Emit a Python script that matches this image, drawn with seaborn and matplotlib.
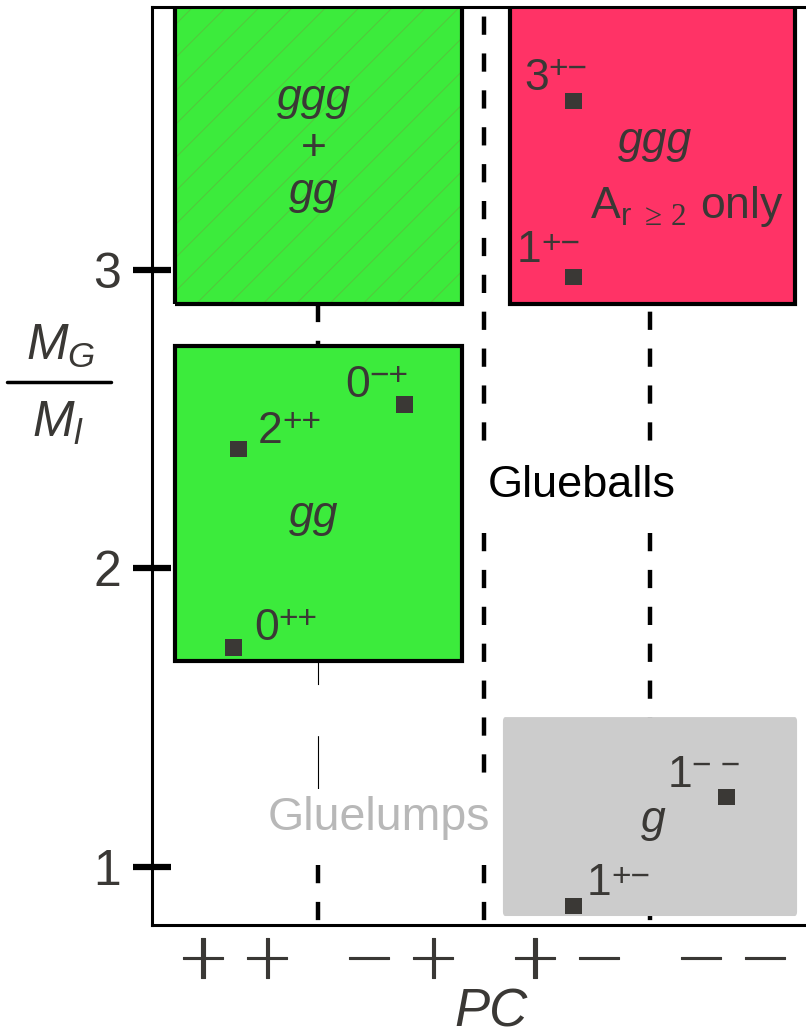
import matplotlib
matplotlib.use("Agg")
import matplotlib.pyplot as plt
import matplotlib.patheffects as pe
from matplotlib.patches import Rectangle, FancyBboxPatch
from matplotlib.lines import Line2D
import pandas as pd
import seaborn as sns


# PC sectors along the x axis
pc_labels = ["+\u2006+", "\u2212\u2006+", "+\u2006\u2212", "\u2212\u2006\u2212"]
sector_edges = [0.5, 1.5, 2.5]

# states: name, PC sector position, M_G / M_l
state_names = ["0++", "2++", "0-+", "3+-", "1+-", "1--", "1+- lump"]
state_x = [-0.01, 0.02, 1.02, 2.04, 2.04, 2.96, 2.04]
state_mass = [1.735, 2.399, 2.548, 3.564, 2.975, 1.234, 0.869]

# shaded regions: x range (sectors), y range (mass ratio)
green_top = [-0.361, 1.367, 2.885, 4.2]
green_low = [-0.361, 1.367, 1.690, 2.744]
red_box = [1.657, 3.373, 2.885, 4.2]
grey_box = [1.614, 3.386, 0.836, 1.502]

df = pd.DataFrame({"name": state_names, "x": state_x, "mass": state_mass})

dark = "#3a3835"

sns.set_style("white")
plt.rcParams["font.family"] = ["Liberation Sans", "DejaVu Sans"]
plt.rcParams["mathtext.fontset"] = "custom"
plt.rcParams["mathtext.rm"] = "Liberation Sans"
plt.rcParams["mathtext.it"] = "Liberation Sans:italic"
plt.rcParams["mathtext.tt"] = "Liberation Serif"
plt.rcParams["hatch.linewidth"] = 0.6

fig = plt.figure(figsize=(8.06, 10.36), dpi=100)
ax = fig.add_axes([152 / 806, 111 / 1036, 664 / 806, 918 / 1036])

# dividing dashed lines
dash = (0, (4.1, 4.2))
ax.plot([sector_edges[0]] * 2, [0.7, 1.26], color="black", lw=3.2, ls=dash, zorder=1)
ax.plot([sector_edges[0]] * 2, [1.26, 1.69], color="black", lw=0.8, ls=(0, (48, 46)), zorder=1)
ax.plot([sector_edges[0]] * 2, [2.70, 4.0], color="black", lw=3.2, ls=dash, zorder=1)
ax.plot([sector_edges[1]] * 2, [0.7, 4.0], color="black", lw=3.2, ls=dash, zorder=1)
ax.plot([sector_edges[2]] * 2, [0.7, 4.0], color="black", lw=3.2, ls=dash, zorder=1)


def box(r, **kw):
    return Rectangle((r[0], r[2]), r[1] - r[0], r[3] - r[2], **kw)


ax.add_patch(box(green_top, facecolor="#3ceb3c", edgecolor="#58c23c", hatch="/", lw=0, zorder=2))
ax.add_patch(box(green_top, facecolor="none", edgecolor="black", lw=3, zorder=3))
ax.add_patch(box(green_low, facecolor="#3ceb3c", edgecolor="black", lw=3, zorder=2))
ax.add_patch(box(red_box, facecolor="#ff3366", edgecolor="black", lw=3, zorder=2))
ax.add_patch(FancyBboxPatch((grey_box[0], grey_box[2]), grey_box[1] - grey_box[0],
                            grey_box[3] - grey_box[2], boxstyle="round,pad=0,rounding_size=0.015",
                            facecolor="#cccccc", edgecolor="none", lw=0, zorder=2))

sns.scatterplot(data=df, x="x", y="mass", marker="s", s=140, color=dark,
                edgecolor="none", zorder=5, ax=ax, legend=False)


# state labels: digit plus a superscript placed just after it
def state_label(x, y, base, sup, rise=3):
    t = ax.text(x, y, base, color=dark, fontsize=32, ha="left", va="baseline", zorder=6)
    ax.annotate(sup, xy=(1, 1), xycoords=t, xytext=(-0.5, rise), textcoords="offset points",
                ha="left", va="top", fontsize=24, color=dark, zorder=6)


state_label(0.115, 1.760, "0", "++")
state_label(0.139, 2.419, "2", "++")
state_label(0.663, 2.573, "0", "\u2212+")
state_label(1.741, 3.601, "3", "+\u2212")
state_label(1.699, 3.025, "1", "+\u2212", rise=1)
state_label(2.609, 1.268, "1", "\u2212 \u2212")
state_label(2.121, 0.906, "1", "+\u2212", rise=1)

ax.text(2.139, 3.172, r"A$_{\mathrm{r}\ \mathtt{\geq\,2}}$ only", color=dark, fontsize=32,
        ha="left", va="baseline", zorder=6)

ikw = dict(color=dark, fontsize=32, ha="center", va="baseline", style="italic", zorder=6)
ax.text(0.476, 3.534, "ggg", **ikw)
ax.text(0.476, 3.367, "+", color=dark, fontsize=32, ha="center", va="baseline", zorder=6)
ax.text(0.476, 3.219, "gg", **ikw)
ax.text(0.476, 2.138, "gg", **ikw)
ax.text(2.530, 3.390, "ggg", **ikw)
ax.text(2.518, 1.117, "g", **ikw)

ax.text(1.524, 2.238, "Glueballs", color="black", fontsize=32.5, ha="left", va="baseline",
        zorder=4, bbox=dict(boxstyle="square,pad=0.45", facecolor="white", edgecolor="none"))
ax.text(0.199, 1.124, "Gluelumps", color="#b8b8b8", fontsize=33.5, ha="left", va="baseline",
        zorder=1.5, bbox=dict(boxstyle="square,pad=0.15", facecolor="white", edgecolor="none"))

# axes
ax.set_xlim(-0.5, 3.5)
ax.set_ylim(0.806, 3.879)
ax.set_xticks(range(4))
ax.set_xticklabels(pc_labels, fontfamily="DejaVu Sans", fontweight="light", fontsize=46, color=dark)
for lab in ax.get_xticklabels():
    lab.set_path_effects([pe.withStroke(linewidth=0.8, foreground=dark)])
ax.set_yticks([1, 2, 3])
ax.set_yticklabels(["1", "2", "3"], fontsize=36, color=dark)
ax.tick_params(axis="x", bottom=False, length=0, pad=3)
ax.tick_params(axis="y", left=True, direction="inout", length=28, width=4.5, color="black", pad=8.5)
for side in ["top", "left", "bottom"]:
    ax.spines[side].set_color("black")
    ax.spines[side].set_linewidth(2.2)
    ax.spines[side].set_zorder(7)
ax.spines["right"].set_visible(False)

ax.set_xlabel("PC", fontsize=38, style="italic", color=dark)
ax.set_ylabel("")
ax.xaxis.set_label_coords(0.5105, -0.1111)
ax.xaxis.label.set_va("baseline")

# y label as a fraction
fig.text(61 / 806, 1 - 360 / 1036, r"$M_G$", fontsize=36, color=dark, ha="center", va="baseline")
fig.text(58 / 806, 1 - 437 / 1036, r"$M_l$", fontsize=36, color=dark, ha="center", va="baseline")
fig.add_artist(Line2D([7 / 806, 111 / 806], [1 - 382 / 1036] * 2, color="black", lw=2.5,
                      transform=fig.transFigure))

fig.savefig("out.png", dpi=100)
